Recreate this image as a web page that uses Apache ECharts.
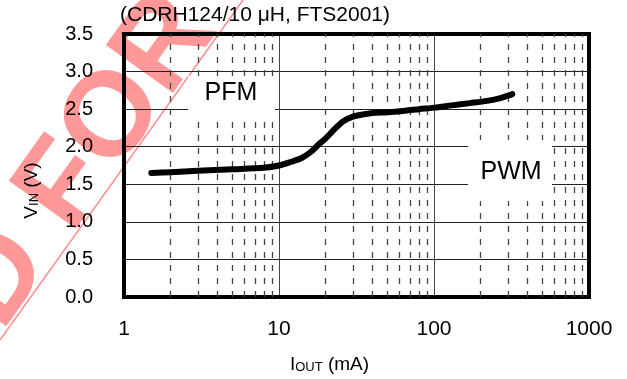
<!DOCTYPE html>
<html>
<head>
<meta charset="utf-8">
<script src="https://cdn.jsdelivr.net/npm/echarts@6/dist/echarts.min.js"></script>
<style>
  html, body { margin: 0; padding: 0; background: #fff; }
  #chart { width: 627px; height: 379px; }
</style>
</head>
<body>
<div id="chart"></div>
<script>
// I_OUT (mA) vs V_IN (V) boundary between PFM and PWM
const iout = [1.5, 2, 3, 5, 8, 10, 12, 14, 16, 18, 20, 23, 26, 30, 35, 40, 50, 65, 80, 100, 130, 170, 220, 260, 300, 320]
const vin = [1.65, 1.66, 1.68, 1.70, 1.72, 1.75, 1.80, 1.85, 1.93, 2.03, 2.11, 2.24, 2.34, 2.40, 2.43, 2.45, 2.46, 2.48, 2.50, 2.52, 2.55, 2.58, 2.61, 2.64, 2.68, 2.70]
const minorX = [2, 3, 4, 5, 6, 7, 8, 9, 20, 30, 40, 50, 60, 70, 80, 90, 200, 300, 400, 500, 600, 700, 800, 900]
const yTicks = [0, 3.5, 0.5]   // min, max, step
const xRange = [1, 1000]

const font = 'Liberation Sans, Arial, sans-serif'
const chart = echarts.init(document.getElementById('chart'))

const nameRich = {
    i: { fontFamily: font, fontSize: 19, color: '#000', verticalAlign: 'bottom', lineHeight: 22 },
    s: { fontFamily: font, fontSize: 13, color: '#000', verticalAlign: 'bottom', lineHeight: 17 }
}
const stamp = 'rgba(255, 0, 0, 0.4)'

chart.setOption({
    backgroundColor: '#fff',
    animation: false,
    grid: {
        left: 124,
        right: 38,
        top: 34,
        bottom: 74,
        show: true,
        borderColor: '#000',
        borderWidth: 4,
        z: 3
    },
    xAxis: {
        type: 'log',
        logBase: 10,
        min: xRange[0],
        max: xRange[1],
        name: '{i|I}{s|OUT}{i| (mA)}',
        nameLocation: 'middle',
        nameGap: 55,
        nameTextStyle: { rich: nameRich, padding: [0, 54, 0, 0] },
        axisLine: { show: false },
        axisTick: { show: false },
        axisLabel: {
            margin: 22,
            fontFamily: font,
            fontSize: 21,
            color: '#000',
            formatter: v => String(Math.round(v))
        },
        splitLine: { show: true, lineStyle: { color: '#444', width: 1 } }
    },
    yAxis: {
        type: 'value',
        min: yTicks[0],
        max: yTicks[1],
        interval: yTicks[2],
        name: '{i|V}{s|IN}{i| (V)}',
        nameLocation: 'middle',
        nameGap: 83,
        nameRotate: 90,
        nameTextStyle: { rich: nameRich, padding: [0, 50, 0, 0] },
        axisLine: { show: false },
        axisTick: { show: false },
        axisLabel: {
            margin: 31,
            fontFamily: font,
            fontSize: 20,
            color: '#000',
            formatter: v => v.toFixed(1)
        },
        splitLine: { show: true, lineStyle: { color: '#222', width: 1 } }
    },
    graphic: [
        // watermark
        {
            type: 'text', z: -1,
            x: 25, y: 243, rotation: 0.95,
            style: {
                text: 'NOT RECOMMENDED', align: 'right', verticalAlign: 'middle',
                font: 'bold 120px ' + font, fill: stamp
            }
        },
        {
            type: 'text', z: -1,
            x: 25, y: 243, rotation: 0.95,
            style: {
                text: ' FOR NEW DESIGNS', align: 'left', verticalAlign: 'middle',
                font: 'bold 120px ' + font, fill: stamp
            }
        },
        {
            type: 'line', z: -1,
            shape: { x1: 0, y1: 340, x2: 243, y2: 0 },
            style: { stroke: 'rgba(255, 0, 0, 0.45)', lineWidth: 1.5 }
        },
        // title
        {
            type: 'text', z: 10, x: 120, y: 5,
            style: { text: '(CDRH124/10 μH, FTS2001)', font: '21px ' + font, fill: '#000' }
        },
        // PFM box
        {
            type: 'rect', z: 10,
            shape: { x: 188, y: 76, width: 87, height: 45 },
            style: { fill: '#fff' }
        },
        {
            type: 'text', z: 11, x: 231, y: 93,
            style: { text: 'PFM', align: 'center', verticalAlign: 'middle', font: '25px ' + font, fill: '#000' }
        },
        // PWM box
        {
            type: 'rect', z: 10,
            shape: { x: 468, y: 140, width: 84, height: 61 },
            style: { fill: '#fff' }
        },
        {
            type: 'text', z: 11, x: 511, y: 172,
            style: { text: 'PWM', align: 'center', verticalAlign: 'middle', font: '25px ' + font, fill: '#000' }
        }
    ],
    series: [
        {
            type: 'line',
            data: iout.map((x, i) => [x, vin[i]]),
            showSymbol: false,
            smooth: 0.3,
            z: 5,
            lineStyle: { color: '#000', width: 6, cap: 'round', join: 'round' },
            markLine: {
                silent: true,
                symbol: ['none', 'none'],
                label: { show: false },
                lineStyle: { color: '#444', width: 1.3, type: [6, 7] },
                data: minorX.map(x => ({ xAxis: x }))
            }
        }
    ]
})
</script>
</body>
</html>
